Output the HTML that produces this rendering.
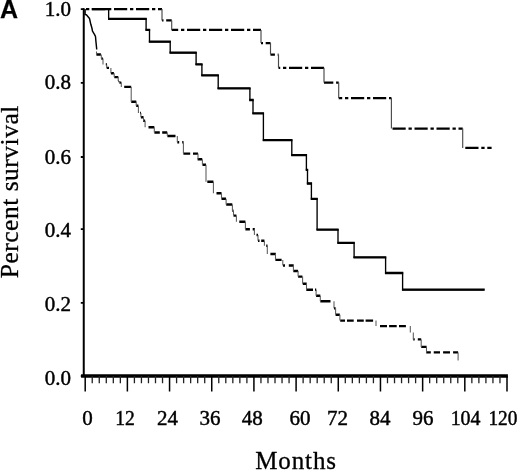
<!DOCTYPE html>
<html><head><meta charset="utf-8"><style>
html,body{margin:0;padding:0;background:#fff;width:520px;height:470px;overflow:hidden}
svg{display:block;filter:grayscale(1)}
</style></head><body>
<svg width="520" height="470" viewBox="0 0 520 470">
<g fill="none" stroke="#000" stroke-linecap="butt">
<path d="M83.75,8.2 L83.75,376" stroke-width="2"/>
<path d="M81.1,375.95 L507.9,375.95" stroke-width="3.5"/>
<path d="M85.20,376L85.20,391.5 M127.38,376L127.38,391.5 M169.56,376L169.56,391.5 M211.74,376L211.74,391.5 M253.92,376L253.92,391.5 M296.10,376L296.10,391.5 M338.28,376L338.28,391.5 M380.46,376L380.46,391.5 M422.64,376L422.64,391.5 M464.82,376L464.82,391.5 M507.00,376L507.00,391.5" stroke-width="1.5"/>
<path d="M92.23,376L92.23,383.3 M99.26,376L99.26,383.3 M106.29,376L106.29,383.3 M113.32,376L113.32,383.3 M120.35,376L120.35,383.3 M134.41,376L134.41,383.3 M141.44,376L141.44,383.3 M148.47,376L148.47,383.3 M155.50,376L155.50,383.3 M162.53,376L162.53,383.3 M176.59,376L176.59,383.3 M183.62,376L183.62,383.3 M190.65,376L190.65,383.3 M197.68,376L197.68,383.3 M204.71,376L204.71,383.3 M218.77,376L218.77,383.3 M225.80,376L225.80,383.3 M232.83,376L232.83,383.3 M239.86,376L239.86,383.3 M246.89,376L246.89,383.3 M260.95,376L260.95,383.3 M267.98,376L267.98,383.3 M275.01,376L275.01,383.3 M282.04,376L282.04,383.3 M289.07,376L289.07,383.3 M303.13,376L303.13,383.3 M310.16,376L310.16,383.3 M317.19,376L317.19,383.3 M324.22,376L324.22,383.3 M331.25,376L331.25,383.3 M345.31,376L345.31,383.3 M352.34,376L352.34,383.3 M359.37,376L359.37,383.3 M366.40,376L366.40,383.3 M373.43,376L373.43,383.3 M387.49,376L387.49,383.3 M394.52,376L394.52,383.3 M401.55,376L401.55,383.3 M408.58,376L408.58,383.3 M415.61,376L415.61,383.3 M429.67,376L429.67,383.3 M436.70,376L436.70,383.3 M443.73,376L443.73,383.3 M450.76,376L450.76,383.3 M457.79,376L457.79,383.3 M471.85,376L471.85,383.3 M478.88,376L478.88,383.3 M485.91,376L485.91,383.3 M492.94,376L492.94,383.3 M499.97,376L499.97,383.3" stroke-width="1.3" stroke="#222"/>
<path d="M80.8,9.10L84,9.10 M80.8,82.90L84,82.90 M80.8,157.00L84,157.00 M80.8,229.20L84,229.20 M80.8,302.80L84,302.80 M80.8,376.00L84,376.00" stroke-width="1.8"/>
<path d="M92.3,9.2 H108.65 V18.9 H146.1 V29.9 H149.5 V41.7 H170.2 V52.7 H196.1 V64.4 H201.9 V75.3 H218.2 V88.4 H249.9 V100 H253 V113.4 H263.4 V140.2 H291.8 V155.1 H306.4 V169.8 H307.5 V183.5 H311.4 V198.9 H317.1 V229.6 H338 V242.8 H354.1 V257.4 H385.6 V273 H402.6 V289.7 H484.1" stroke-width="1.35" stroke-linejoin="miter"/>
<path d="M91.65,9.2H109.3 M108,18.9H146.75 M145.45,29.9H150.15 M148.85,41.7H170.85 M169.55,52.7H196.75 M195.45,64.4H202.55 M201.25,75.3H218.85 M217.55,88.4H250.55 M249.25,100H253.65 M252.35,113.4H264.05 M262.75,140.2H292.45 M291.15,155.1H307.05 M305.75,169.8H308.15 M306.85,183.5H312.05 M310.75,198.9H317.75 M316.45,229.6H338.65 M337.35,242.8H354.75 M353.45,257.4H386.25 M384.95,273H403.25 M401.95,289.7H484.75" stroke-width="2.3"/>
<path d="M84,9.1H162" stroke-width="2.3" stroke-dasharray="13.2 2.8 3.3 2.7" stroke-dashoffset="14.00"/>
<path d="M162,20.4H171.7" stroke-width="2.3" stroke-dasharray="13.2 2.8 3.3 2.7" stroke-dashoffset="17.80"/>
<path d="M171.7,29.9H261" stroke-width="2.3" stroke-dasharray="13.2 2.8 3.3 2.7" stroke-dashoffset="6.70"/>
<path d="M261,43.1H270.5" stroke-width="2.3" stroke-dasharray="13.2 2.8 3.3 2.7" stroke-dashoffset="17.30"/>
<path d="M270.5,54.6H278.5" stroke-width="2.3" stroke-dasharray="13.2 2.8 3.3 2.7" stroke-dashoffset="8.80"/>
<path d="M278.5,67.8H324" stroke-width="2.3" stroke-dasharray="13.2 2.8 3.3 2.7" stroke-dashoffset="11.50"/>
<path d="M324,82.6H338.7" stroke-width="2.3" stroke-dasharray="13.2 2.8 3.3 2.7" stroke-dashoffset="3.90"/>
<path d="M338.7,98.1H391.4" stroke-width="2.3" stroke-dasharray="13.2 2.8 3.3 2.7" stroke-dashoffset="9.70"/>
<path d="M391.4,128.6H462.7" stroke-width="2.3" stroke-dasharray="13.2 2.8 3.3 2.7" stroke-dashoffset="20.90"/>
<path d="M462.7,147.9H491.6" stroke-width="2.3" stroke-dasharray="13.2 2.8 3.3 2.7" stroke-dashoffset="19.40"/>
<path d="M162,9.1L162,20.4 M171.7,20.4L171.7,29.9 M261,29.9L261,43.1 M270.5,43.1L270.5,54.6 M278.5,54.6L278.5,67.8 M324,67.8L324,82.6 M338.7,82.6L338.7,98.1 M391.4,98.1L391.4,128.6 M462.7,128.6L462.7,147.9" stroke-width="1.15" stroke="#4a4a4a"/>
<path d="M96.4,54.5H100.9 M101.3,58.6H103 M105.8,64.4H107 M106.7,67.9H109 M110.9,73.3H113.9 M114.3,77.1H118.3 M118.2,81H118.8 M119.4,82.6H121.3 M124.2,86.9H131.2 M131.2,101.8H136.3 M136.2,105.7H138.4 M140.1,113H141 M140.9,117.2H143.5 M143.2,120.75H145.1 M148.5,127.2H154.3 M154.4,132.5H159.8 M162.2,132.5H167.2 M167.4,135.95H175.5 M177.3,142.3H179.2 M182.2,142.3H183.5 M183.4,153.6H190.2 M193,153.6H198 M197.6,159.2H202.2 M202.5,164.7H206 M207.3,181.7H213.4 M216.5,193.3H221.5 M221.5,198.75H226 M226.2,204.5H232.3 M232.4,210.8H233.5 M233.5,215.6H236.4 M239.3,221.7H245.4 M245.4,229.2H249.9 M252.7,229.2H254.8 M256.5,235H258 M258,240.8H259.5 M261.2,240.8H264.4 M266.2,245.8H267.5 M270.4,254H275.8 M275.4,259.9H281.6 M283,265.5H285 M288.8,265.5H293.7 M293.3,271H298.1 M298.1,276.6H302.4 M302.8,283.8H306.7 M306.3,289.7H313 M315,289.7H316.2 M316.1,295.8H320.3 M320.3,301.2H330.5 M334,308.3H335.5 M335.6,314.8H339.8 M340.2,320.6H345 M347,320.6H353.7 M357,320.6H363.75 M365.6,320.6H373.1 M380,326.1H387 M389.1,326.1H396.7 M399,326.1H405.9 M413.2,339.4H414.7 M417.8,339.4H421.2 M421.2,346.9H426.6 M426.2,352.4H430.8 M433.75,352.4H440 M443.1,352.4H450 M453.1,352.4H458.1" stroke-width="2.4"/>
<path d="M96.5,51.5L96.5,54.5 M101.3,54.5L101.3,58.6 M103,58.6L103,64.4 M106.7,64.4L106.7,67.9 M110.9,67.9L110.9,73.3 M114.2,73.3L114.2,77.1 M118.2,77.1L118.2,81 M119.4,81L119.4,82.6 M121.3,82.6L121.3,86.9 M131.2,86.9L131.2,101.8 M136.2,101.8L136.2,105.7 M138.4,105.7L138.4,113 M140.9,113L140.9,117.2 M143.5,117.2L143.5,120.75 M145.1,120.75L145.1,127.2 M154.3,127.2L154.3,132.5 M167.3,132.5L167.3,135.95 M177.3,135.95L177.3,142.3 M183.4,142.3L183.4,153.6 M198,153.6L198,159.2 M202.4,159.2L202.4,164.7 M206,164.7L206,181.7 M213.4,181.7L213.4,193.3 M221.5,193.3L221.5,198.75 M226.1,198.75L226.1,204.5 M232.4,204.5L232.4,210.8 M233.5,210.8L233.5,215.6 M236.4,215.6L236.4,221.7 M245.4,221.7L245.4,229.2 M254.4,229.2L254.4,235 M258,235L258,240.8 M264.4,240.8L264.4,245.8 M267.3,245.8L267.3,254 M275.5,254L275.5,259.9 M282.8,259.9L282.8,265.5 M293.4,265.5L293.4,271 M298.1,271L298.1,276.6 M302.6,276.6L302.6,283.8 M306.5,283.8L306.5,289.7 M316.1,289.7L316.1,295.8 M320.3,295.8L320.3,301.2 M334,301.2L334,308.3 M335.6,308.3L335.6,314.8 M339.9,314.8L339.9,320.6 M376,320.6L376,326.1 M410.3,326.1L410.3,332.4 M413.3,332.4L413.3,339.4 M421.2,339.4L421.2,346.9 M426.5,346.9L426.5,352.4 M458.1,352.4L458.1,360.6" stroke-width="1.05" stroke="#5a5a5a"/>
<path d="M85.1,9 V14.5 L86.4,14.8 L89.5,18.5 L90.8,24.3 L91.9,28 L92.5,31.1 L94.6,34.6 L95.5,36.5 L95.9,41.2 L96.6,48 L96.7,49.5" stroke-width="1.45" stroke-linejoin="round"/>
</g>
<g font-family="Liberation Serif, serif" font-size="21" fill="#000" stroke="#000" stroke-width="0.45">
<text x="87.5" y="424.5" text-anchor="middle">0</text>
<text x="125" y="424.5" text-anchor="middle" textLength="19.6" lengthAdjust="spacingAndGlyphs">12</text>
<text x="167.6" y="424.5" text-anchor="middle">24</text>
<text x="210" y="424.5" text-anchor="middle">36</text>
<text x="252.3" y="424.5" text-anchor="middle">48</text>
<text x="300" y="424.5" text-anchor="middle">60</text>
<text x="337.5" y="424.5" text-anchor="middle">72</text>
<text x="380" y="424.5" text-anchor="middle">84</text>
<text x="423" y="424.5" text-anchor="middle">96</text>
<text x="465.6" y="424.5" text-anchor="middle" textLength="29.9" lengthAdjust="spacingAndGlyphs">104</text>
<text x="502.9" y="424.5" text-anchor="middle" textLength="29.0" lengthAdjust="spacingAndGlyphs">120</text>
<text x="71" y="16.2" text-anchor="end">1.0</text>
<text x="71" y="89.2" text-anchor="end">0.8</text>
<text x="71" y="163.7" text-anchor="end">0.6</text>
<text x="71" y="237.2" text-anchor="end">0.4</text>
<text x="71" y="310.7" text-anchor="end">0.2</text>
<text x="71" y="385.2" text-anchor="end">0.0</text>
</g>
<text x="255.2" y="468.8" font-family="Liberation Serif, serif" font-size="25" letter-spacing="0.9" stroke="#000" stroke-width="0.3">Months</text>
<text transform="translate(18.3,278.2) rotate(-90)" font-family="Liberation Serif, serif" font-size="25.5" letter-spacing="0.5" stroke="#000" stroke-width="0.3">Percent survival</text>
<text x="-0.1" y="17.9" font-family="Liberation Sans, sans-serif" font-weight="bold" font-size="25" stroke="#000" stroke-width="0.25">A</text>
</svg>
</body></html>
